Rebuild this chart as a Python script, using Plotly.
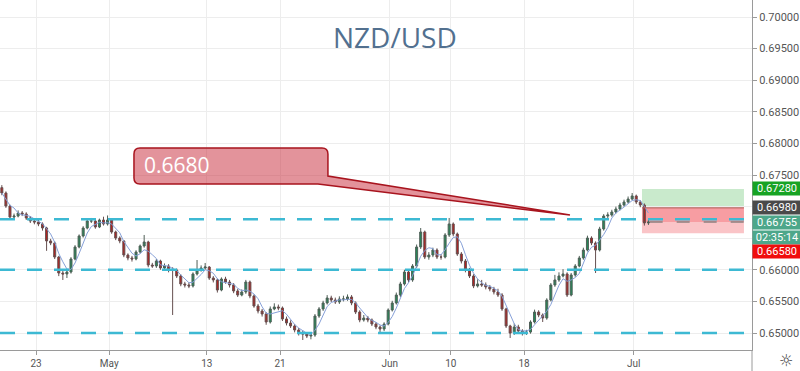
import plotly.graph_objects as go
import pandas as pd

pair = "NZD/USD"
bars_per_day = 3
first_bar_day = -2.8

opens = [0.67300,0.67215,0.67009,0.66835,0.66851,0.66899,0.66883,0.66820,0.66772,0.66756,
0.66725,0.66661,0.66456,0.66424,0.66202,0.65949,0.65934,0.65965,0.66171,0.66361,
0.66535,0.66661,0.66772,0.66772,0.66677,0.66788,0.66725,0.66788,0.66598,0.66503,
0.66456,0.66234,0.66187,0.66171,0.66282,0.66377,0.66440,0.66076,0.66060,0.66139,
0.66029,0.66060,0.65997,0.65997,0.65902,0.65776,0.65760,0.65744,0.65934,0.65997,
0.66029,0.66044,0.65870,0.65839,0.65680,0.65854,0.65807,0.65760,0.65665,0.65601,
0.65649,0.65807,0.65586,0.65427,0.65348,0.65301,0.65174,0.65380,0.65412,0.65396,
0.65222,0.65158,0.65111,0.65048,0.64999,0.64984,0.64952,0.64968,0.65269,0.65380,
0.65475,0.65554,0.65522,0.65491,0.65538,0.65538,0.65570,0.65475,0.65332,0.65206,
0.65237,0.65206,0.65142,0.65095,0.65063,0.65142,0.65364,0.65475,0.65601,0.65776,
0.65965,0.65839,0.66060,0.66361,0.66598,0.66202,0.66234,0.66313,0.66202,0.66202,
0.66551,0.66725,0.66567,0.66250,0.66139,0.65997,0.65902,0.65744,0.65776,0.65760,
0.65728,0.65696,0.65649,0.65601,0.65380,0.65111,0.64999,0.65095,0.65032,0.64999,
0.65015,0.65174,0.65332,0.65285,0.65237,0.65522,0.65760,0.65839,0.65902,0.65934,
0.65601,0.65918,0.66060,0.66187,0.66313,0.66503,0.66424,0.66313,0.66646,0.66851,
0.66867,0.66914,0.66962,0.67025,0.67073,0.67120,0.67168,0.67073,0.67025,0.66741]

highs = [0.67340,0.67240,0.67030,0.66890,0.66940,0.66930,0.66910,0.66850,0.66810,0.66790,
0.66750,0.66680,0.66490,0.66450,0.66220,0.65990,0.66000,0.66200,0.66390,0.66560,
0.66690,0.66800,0.66820,0.66790,0.66810,0.66840,0.66860,0.66810,0.66620,0.66530,
0.66470,0.66260,0.66220,0.66310,0.66400,0.66551,0.66460,0.66110,0.66170,0.66160,
0.66100,0.66090,0.66040,0.66020,0.65930,0.65810,0.65800,0.65960,0.66155,0.66070,
0.66108,0.66060,0.65900,0.65860,0.65880,0.65890,0.65840,0.65790,0.65700,0.65690,
0.65840,0.65830,0.65610,0.65460,0.65380,0.65330,0.65420,0.65470,0.65450,0.65420,
0.65260,0.65200,0.65140,0.65080,0.65040,0.65010,0.65000,0.65300,0.65410,0.65510,
0.65600,0.65590,0.65560,0.65580,0.65590,0.65610,0.65600,0.65500,0.65360,0.65285,
0.65270,0.65230,0.65170,0.65120,0.65170,0.65390,0.65510,0.65640,0.65810,0.66000,
0.65990,0.66090,0.66400,0.66661,0.66620,0.66280,0.66350,0.66340,0.66250,0.66580,
0.66820,0.66750,0.66590,0.66280,0.66170,0.66030,0.65930,0.65850,0.65840,0.65800,
0.65760,0.65730,0.65700,0.65630,0.65400,0.65130,0.65150,0.65130,0.65060,0.65050,
0.65200,0.65370,0.65360,0.65310,0.65550,0.65790,0.65920,0.65960,0.66010,0.65960,
0.65950,0.66090,0.66220,0.66350,0.66540,0.66530,0.66450,0.66680,0.66880,0.66910,
0.66950,0.67000,0.67060,0.67110,0.67160,0.67215,0.67190,0.67100,0.67050,0.66790]

lows = [0.67180,0.66980,0.66790,0.66800,0.66830,0.66850,0.66790,0.66740,0.66720,0.66690,
0.66620,0.66300,0.66390,0.66170,0.65900,0.65839,0.65870,0.65940,0.66150,0.66340,
0.66510,0.66640,0.66740,0.66650,0.66660,0.66700,0.66700,0.66570,0.66470,0.66420,
0.66200,0.66150,0.66130,0.66150,0.66260,0.66350,0.66040,0.66030,0.66030,0.66000,
0.65990,0.65960,0.65285,0.65870,0.65740,0.65720,0.65710,0.65720,0.65910,0.65970,
0.66000,0.65840,0.65800,0.65640,0.65660,0.65780,0.65720,0.65630,0.65570,0.65580,
0.65620,0.65550,0.65400,0.65310,0.65260,0.65130,0.65150,0.65360,0.65360,0.65190,
0.65120,0.65080,0.65010,0.64960,0.64889,0.64920,0.64900,0.64940,0.65240,0.65350,
0.65450,0.65490,0.65460,0.65460,0.65500,0.65510,0.65440,0.65300,0.65170,0.65180,
0.65170,0.65110,0.65060,0.64999,0.65030,0.65120,0.65340,0.65450,0.65570,0.65750,
0.65800,0.65810,0.66030,0.66330,0.66170,0.66160,0.66200,0.66170,0.66160,0.66180,
0.66520,0.66530,0.66220,0.66100,0.65960,0.65870,0.65710,0.65720,0.65730,0.65690,
0.65660,0.65610,0.65570,0.65350,0.65080,0.64921,0.64970,0.65000,0.64960,0.64970,
0.64990,0.65150,0.65250,0.65174,0.65210,0.65500,0.65730,0.65810,0.65880,0.65570,
0.65580,0.65890,0.66040,0.66160,0.66290,0.66390,0.65949,0.66290,0.66620,0.66810,
0.66840,0.66890,0.66940,0.67000,0.67050,0.67100,0.67040,0.66990,0.66700,0.66710]

closes = [0.67215,0.67009,0.66835,0.66851,0.66899,0.66883,0.66820,0.66772,0.66756,0.66725,
0.66661,0.66456,0.66424,0.66202,0.65949,0.65934,0.65965,0.66171,0.66361,0.66535,
0.66661,0.66772,0.66772,0.66677,0.66788,0.66725,0.66788,0.66598,0.66503,0.66456,
0.66234,0.66187,0.66171,0.66282,0.66377,0.66440,0.66076,0.66060,0.66139,0.66029,
0.66060,0.65997,0.65997,0.65902,0.65776,0.65760,0.65744,0.65934,0.65997,0.66029,
0.66044,0.65870,0.65839,0.65680,0.65854,0.65807,0.65760,0.65665,0.65601,0.65649,
0.65807,0.65586,0.65427,0.65348,0.65301,0.65174,0.65380,0.65412,0.65396,0.65222,
0.65158,0.65111,0.65048,0.64999,0.64984,0.64952,0.64968,0.65269,0.65380,0.65475,
0.65554,0.65522,0.65491,0.65538,0.65538,0.65570,0.65475,0.65332,0.65206,0.65237,
0.65206,0.65142,0.65095,0.65063,0.65142,0.65364,0.65475,0.65601,0.65776,0.65965,
0.65839,0.66060,0.66361,0.66598,0.66202,0.66234,0.66313,0.66202,0.66202,0.66551,
0.66725,0.66567,0.66250,0.66139,0.65997,0.65902,0.65744,0.65776,0.65760,0.65728,
0.65696,0.65649,0.65601,0.65380,0.65111,0.64999,0.65095,0.65032,0.64999,0.65015,
0.65174,0.65332,0.65285,0.65237,0.65522,0.65760,0.65839,0.65902,0.65934,0.65601,
0.65918,0.66060,0.66187,0.66313,0.66503,0.66424,0.66313,0.66646,0.66851,0.66867,
0.66914,0.66962,0.67025,0.67073,0.67120,0.67168,0.67073,0.67025,0.66741,0.66755]

tick_days = [0, 6, 14, 20, 29, 34, 40, 49]
tick_text = ["23", "May", "13", "21", "Jun", "10", "18", "Jul"]
# price ticks that stay visible (0.67000 and 0.66500 sit under the price labels)
price_ticks = [0.650, 0.655, 0.660, 0.675, 0.680, 0.685, 0.690, 0.695, 0.700]

levels = [0.6680, 0.6600, 0.6500]
callout_text = "0.6680"
pos_entry = 0.6698
pos_target = 0.6728
pos_stop = 0.6658
last_price = 0.66755
countdown = "02:35:14"

# ---- view / drawing geometry ----
X_RANGE = [-2.951, 58.689]
Y_RANGE = [0.64731, 0.70269]
POS_X0, POS_X1 = 49.67, 58.03
CUR_X0, CUR_X1 = 50.3, 58.2
CB_L, CB_R, CB_T, CB_B = 8.03, 23.93, 0.67927, 0.67357
CB_RX, CB_RY = 0.49, 0.00095
CB_P1Y = 0.67484
CB_P2X = 23.11
CB_TIP = (43.77, 0.66867)

x_bars = [first_bar_day + k / bars_per_day for k in range(len(closes))]
ma = pd.Series(closes).rolling(4, min_periods=1).mean()

fig = go.Figure()
fig.add_trace(go.Candlestick(
    x=x_bars, open=opens, high=highs, low=lows, close=closes,
    increasing=dict(line=dict(color="#4f5f57", width=1), fillcolor="#238A58"),
    decreasing=dict(line=dict(color="#654f4f", width=1), fillcolor="#B3201F"),
    whiskerwidth=0, hoverinfo="skip", showlegend=False,
))
fig.add_trace(go.Scatter(
    x=x_bars, y=ma, mode="lines", line=dict(color="#86A0D8", width=1),
    hoverinfo="skip", showlegend=False,
))

shapes = []
shapes.append(dict(type="rect", xref="x", yref="y", x0=POS_X0, x1=POS_X1, y0=pos_entry, y1=pos_target,
                   fillcolor="rgba(90,190,100,0.33)", line=dict(width=0), layer="below"))
shapes.append(dict(type="rect", xref="x", yref="y", x0=POS_X0, x1=POS_X1, y0=last_price, y1=pos_entry,
                   fillcolor="rgba(240,60,70,0.5)", line=dict(width=0), layer="below"))
shapes.append(dict(type="rect", xref="x", yref="y", x0=POS_X0, x1=POS_X1, y0=pos_stop, y1=last_price,
                   fillcolor="rgba(240,60,70,0.3)", line=dict(width=0), layer="below"))
shapes.append(dict(type="line", xref="x", yref="y", x0=POS_X0, x1=POS_X1, y0=pos_entry, y1=pos_entry,
                   line=dict(color="#B85858", width=1)))
for lv in levels:
    shapes.append(dict(type="line", xref="paper", yref="y", x0=0, x1=1, y0=lv, y1=lv,
                       line=dict(color="#3DB9D3", width=2.5, dash="15px,12px"), layer="above"))
shapes.append(dict(type="line", xref="x", yref="y", x0=CUR_X0, x1=CUR_X1, y0=last_price, y1=last_price,
                   line=dict(color="#8f8080", width=1.5, dash="13px,14px")))
L, R, T, B = CB_L, CB_R, CB_T, CB_B
rx, ry = CB_RX, CB_RY
path = (f"M {L+rx},{T} L {R-rx},{T} Q {R},{T} {R},{T-ry} L {R},{CB_P1Y} "
        f"L {CB_TIP[0]},{CB_TIP[1]} L {CB_P2X},{B} L {L+rx},{B} Q {L},{B} {L},{B+ry} "
        f"L {L},{T-ry} Q {L},{T} {L+rx},{T} Z")
shapes.append(dict(type="path", xref="x", yref="y", path=path,
                   fillcolor="rgba(200,40,55,0.5)", line=dict(color="#A8141E", width=1.5), layer="above"))
shapes.append(dict(type="line", xref="paper", yref="paper", x0=1, x1=1, y0=-0.07, y1=0,
                   line=dict(color="#9a9a9a", width=1)))

annotations = []
annotations.append(dict(text=pair, xref="paper", yref="paper", x=0.525, y=0.894,
                        xanchor="center", yanchor="middle", showarrow=False,
                        font=dict(family="Open Sans", size=28, color="#52708F")))
annotations.append(dict(text=callout_text, xref="x", yref="y", x=8.7, y=0.67658, xanchor="left",
                        yanchor="middle", showarrow=False,
                        font=dict(family="Open Sans", size=21, color="white")))

def price_label(text, y, bg, yshift=0):
    return dict(text=text, xref="paper", yref="y", x=1, y=y, xanchor="left", yanchor="middle",
                showarrow=False, bgcolor=bg, width=46, height=11, borderpad=1, yshift=yshift,
                font=dict(family="Roboto", size=11, color="white"), align="center")

annotations.append(price_label(f"{pos_target:.5f}", pos_target, "#17A324"))
annotations.append(price_label(f"{pos_entry:.5f}", pos_entry, "#4A4A4A"))
annotations.append(price_label(f"{last_price:.5f}", last_price, "#4DA78A"))
annotations.append(price_label(countdown, last_price, "#4DA78A", yshift=-15))
annotations.append(price_label(f"{pos_stop:.5f}", pos_stop, "#F00D0D", yshift=-18))
annotations.append(dict(text="☼", xref="paper", yref="paper", x=1.045, y=-0.03,
                        xanchor="center", yanchor="middle", showarrow=False,
                        font=dict(family="DejaVu Sans", size=16, color="#444444")))

fig.update_layout(
    width=800, height=371,
    margin=dict(l=0, r=48, t=0, b=21, autoexpand=False),
    paper_bgcolor="white", plot_bgcolor="white",
    shapes=shapes, annotations=annotations,
    showlegend=False,
    xaxis=dict(range=X_RANGE, rangeslider=dict(visible=False), tickmode="array",
               tickvals=tick_days, ticktext=tick_text, showgrid=True, gridcolor="#EDEDED",
               zeroline=False, showline=True, linecolor="#9a9a9a", ticks="outside", ticklen=4,
               tickcolor="#9a9a9a", tickfont=dict(family="Roboto", size=10, color="#555555")),
    yaxis=dict(range=Y_RANGE, side="right", tickmode="array", tickvals=price_ticks,
               tickformat=".5f", showgrid=True, gridcolor="#EDEDED", zeroline=False,
               showline=True, linecolor="#9a9a9a", ticks="outside", ticklen=4, tickcolor="#9a9a9a",
               tickfont=dict(family="Roboto", size=11, color="#555555"),
               minor=dict(dtick=0.005, tick0=0.65, showgrid=True, gridcolor="#EDEDED",
                          gridwidth=1, ticks="")),
)

fig.write_html("out.html", config={"displayModeBar": False},
               post_script="document.body.style.margin='0';document.body.style.overflow='hidden';")
